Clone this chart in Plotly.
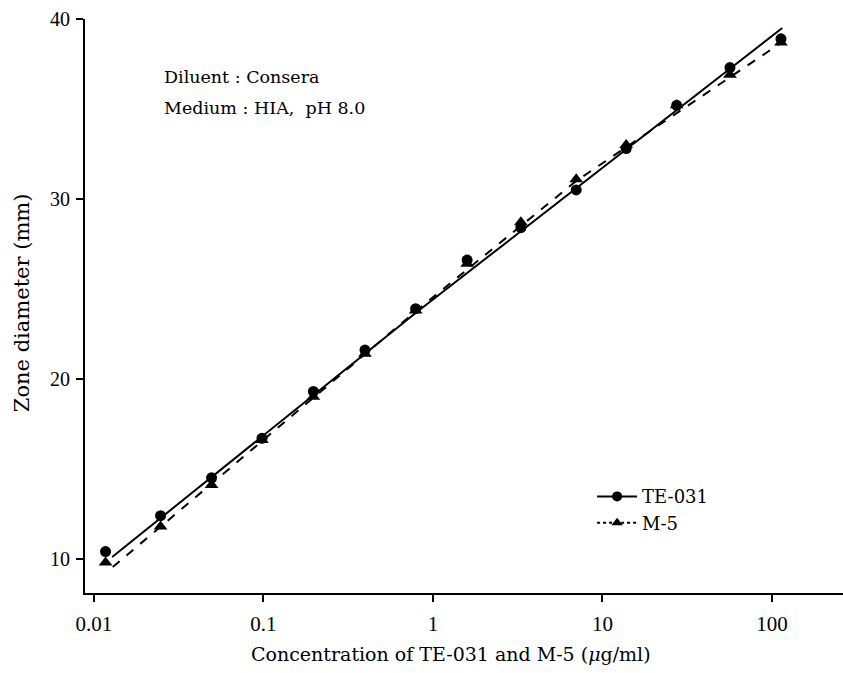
import plotly.graph_objects as go

# Data
conc = [0.0117, 0.0247, 0.0494, 0.098, 0.197, 0.397, 0.79, 1.59, 3.3, 7.0, 13.8, 27.4, 56.5, 113]
te031 = [10.4, 12.4, 14.5, 16.7, 19.3, 21.6, 23.9, 26.6, 28.4, 30.5, 32.8, 35.2, 37.3, 38.9]
m5 = [9.8, 11.8, 14.1, 16.6, 19.0, 21.4, 23.8, 26.4, 28.7, 31.1, 33.0, 35.2, 36.9, 38.7]

# Fitted lines
te_line_x = [0.0128, 0.8, 115]
te_line_y = [10.1, 23.7, 39.5]
m5_line_x = [0.0129, 0.79, 7.0, 110]
m5_line_y = [9.54, 23.75, 31.0, 38.6]

x_ticks = [0.01, 0.1, 1, 10, 100]
x_tick_labels = ["0.01", "0.1", "1", "10", "100"]
y_ticks = [10, 20, 30, 40]

FONT = "DejaVu Serif"
TICKFONT = "Liberation Serif"

fig = go.Figure()
fig.add_trace(go.Scatter(x=te_line_x, y=te_line_y, mode="lines",
                         line=dict(color="black", width=2), showlegend=False))
fig.add_trace(go.Scatter(x=m5_line_x, y=m5_line_y, mode="lines",
                         line=dict(color="black", width=2, dash="dash"), showlegend=False))
fig.add_trace(go.Scatter(x=conc, y=te031, mode="markers",
                         marker=dict(symbol="circle", size=11, color="black"), showlegend=False))
fig.add_trace(go.Scatter(x=conc, y=m5, mode="markers",
                         marker=dict(symbol="triangle-up", size=12, color="black"), showlegend=False))
# legend entries
fig.add_trace(go.Scatter(x=[None], y=[None], mode="lines+markers", name="TE-031",
                         line=dict(color="black", width=2),
                         marker=dict(symbol="circle", size=10, color="black")))
fig.add_trace(go.Scatter(x=[None], y=[None], mode="lines+markers", name="M-5",
                         line=dict(color="black", width=2, dash="dot"),
                         marker=dict(symbol="triangle-up", size=10, color="black")))

fig.add_annotation(x=0.101, y=0.899, xref="paper", yref="paper", xanchor="left", yanchor="middle",
                   text="Diluent : Consera", showarrow=False,
                   font=dict(family=FONT, size=17.5, color="black"))
fig.add_annotation(x=0.101, y=0.845, xref="paper", yref="paper", xanchor="left", yanchor="middle",
                   text="Medium : HIA,  pH 8.0", showarrow=False,
                   font=dict(family=FONT, size=17.5, color="black"))
# axis titles
fig.add_annotation(x=0.483, y=-0.106, xref="paper", yref="paper", xanchor="center", yanchor="middle",
                   text="Concentration of TE-031 and M-5 (<i>μ</i>g/ml)", showarrow=False,
                   font=dict(family=FONT, size=19, color="black"))
fig.add_annotation(x=-0.083, y=0.505, xref="paper", yref="paper", xanchor="center", yanchor="middle",
                   text="Zone diameter (mm)", showarrow=False, textangle=-90,
                   font=dict(family=FONT, size=21, color="black"))

fig.update_layout(
    width=843, height=673,
    margin=dict(l=85, r=0, t=19, b=80),
    paper_bgcolor="white", plot_bgcolor="white",
    font=dict(family=FONT, size=17, color="black"),
    legend=dict(x=0.669, y=0.2, xanchor="left", yanchor="top",
                bgcolor="rgba(0,0,0,0)", font=dict(family=FONT, size=18),
                tracegroupgap=0, itemwidth=40),
)
fig.update_xaxes(type="log", range=[-2.053, 2.419],
                 tickvals=x_ticks, ticktext=x_tick_labels,
                 tickfont=dict(family=TICKFONT, size=21),
                 showline=True, linecolor="black", linewidth=2,
                 ticks="outside", ticklen=7, tickwidth=2, tickcolor="black",
                 ticklabelstandoff=4,
                 showgrid=False, zeroline=False)
fig.update_yaxes(range=[8.1, 40], tickvals=y_ticks,
                 tickfont=dict(family=TICKFONT, size=20),
                 showline=True, linecolor="black", linewidth=2,
                 ticks="outside", ticklen=7, tickwidth=2, tickcolor="black",
                 ticklabelstandoff=2,
                 showgrid=False, zeroline=False)

fig.write_html("out.html")
